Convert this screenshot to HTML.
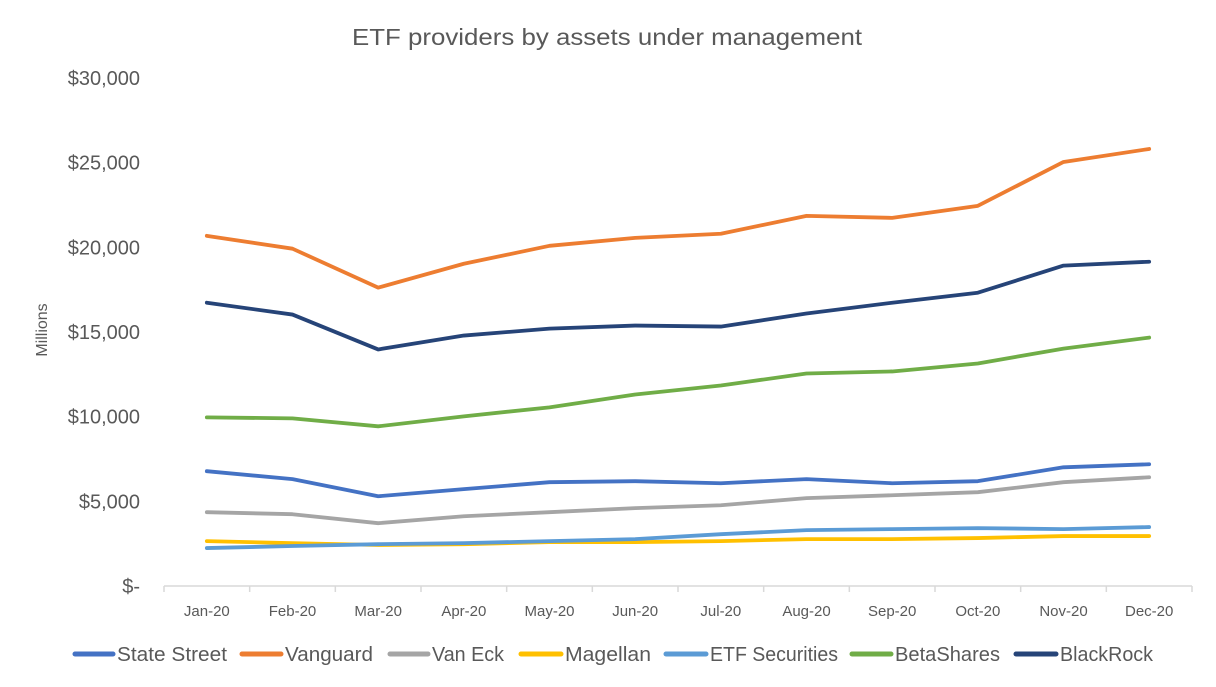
<!DOCTYPE html>
<html><head><meta charset="utf-8"><style>
body{margin:0;background:#fff;font-family:"Liberation Sans",sans-serif;}
svg{display:block}
</style></head><body>
<svg id="c" width="1216" height="687">
<text x="352" y="45" textLength="510" lengthAdjust="spacingAndGlyphs" font-size="23" fill="#595959">ETF providers by assets under management</text>
<text transform="translate(47,330) rotate(-90)" text-anchor="middle" font-size="16" fill="#595959">Millions</text>
<g id="g"></g>
</svg>
<script>
const categories=["Jan-20","Feb-20","Mar-20","Apr-20","May-20","Jun-20","Jul-20","Aug-20","Sep-20","Oct-20","Nov-20","Dec-20"];
const yTicks=[0,5000,10000,15000,20000,25000,30000];
const yTickLabels=["$-","$5,000","$10,000","$15,000","$20,000","$25,000","$30,000"];
const seriesNames=["State Street","Vanguard","Van Eck","Magellan","ETF Securities","BetaShares","BlackRock"];
const stateStreet=[6780,6310,5300,5720,6130,6190,6070,6310,6070,6190,7010,7190];
const vanguard=[20680,19920,17620,19030,20090,20560,20800,21860,21740,22450,25040,25810];
const vanEck=[4360,4240,3710,4120,4360,4600,4770,5190,5360,5540,6130,6420];
const magellan=[2650,2530,2420,2470,2590,2590,2650,2770,2770,2830,2950,2950];
const etfSecurities=[2240,2360,2470,2530,2650,2770,3060,3300,3360,3420,3360,3480];
const betaShares=[9960,9900,9430,10020,10550,11310,11840,12550,12670,13140,14020,14670];
const blackRock=[16730,16030,13970,14790,15200,15380,15320,16090,16730,17320,18920,19150];
const colors=["#4472C4","#ED7D31","#A5A5A5","#FFC000","#5B9BD5","#70AD47","#264478"];
const allSeries=[stateStreet,vanguard,vanEck,magellan,etfSecurities,betaShares,blackRock];
const X0=164,X1=1192,Y0=586,Y1=78,YMAX=30000;
const bw=(X1-X0)/categories.length;
function xs(i){return X0+bw*(i+0.5);}
function ys(v){return Y0-(v/YMAX)*(Y0-Y1);}
const g=document.getElementById('g');const NS="http://www.w3.org/2000/svg";
function mk(t,a){const e=document.createElementNS(NS,t);for(const k in a)e.setAttribute(k,a[k]);g.appendChild(e);return e;}
yTicks.forEach((v,i)=>{const t=mk('text',{x:140,y:ys(v)+7,'text-anchor':'end','font-size':20,fill:'#595959'});t.textContent=yTickLabels[i];

});
const ax=mk('line',{x1:X0,x2:X1,y1:Y0,y2:Y0,stroke:'#d9d9d9','stroke-width':1.5});


for(let i=0;i<=categories.length;i++){const tk=mk('line',{x1:X0+bw*i,x2:X0+bw*i,y1:Y0,y2:Y0+6,stroke:'#d9d9d9','stroke-width':1.5});

}
categories.forEach((c,i)=>{const t=mk('text',{x:xs(i),y:616,'text-anchor':'middle','font-size':15,fill:'#595959'});t.textContent=c;

});
allSeries.forEach((s,k)=>{const p=mk('polyline',{points:s.map((v,i)=>xs(i)+','+ys(v)).join(' '),fill:'none',stroke:colors[k],'stroke-width':3.8,'stroke-linejoin':'round','stroke-linecap':'round'});

});
const legX=[73,240,388,519,664,850,1014],legW=[42,43,42,44,44,43,44],legTL=[110,88,72,86,128,105,93];
seriesNames.forEach((n,k)=>{const l=mk('line',{x1:legX[k]+2,x2:legX[k]+legW[k]-2,y1:654,y2:654,stroke:colors[k],'stroke-width':5,'stroke-linecap':'round'});


const t=mk('text',{x:legX[k]+legW[k]+2,y:661,'font-size':20,fill:'#595959',textLength:legTL[k],lengthAdjust:'spacingAndGlyphs'});t.textContent=n;

});
</script>
</body></html>
